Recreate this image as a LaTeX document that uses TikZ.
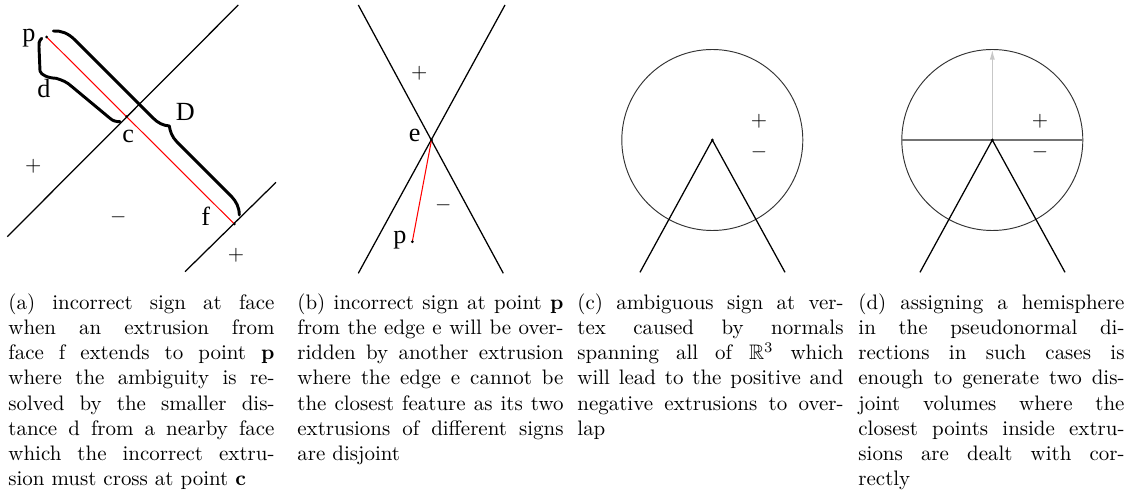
\documentclass[tikz,border=0pt]{standalone}
\usepackage{amssymb}
\usepackage{fontspec}
\newfontfamily\lblfont{Liberation Serif}
\usetikzlibrary{arrows.meta}
\tikzset{
  ln/.style={line width=0.6pt, black},
  redln/.style={line width=0.5pt, red},
  circln/.style={line width=0.45pt, black!80},
  brc/.style={line width=1.4pt, line cap=round, line join=round},
  lbl/.style={font=\lblfont\fontsize{12.5}{14}\selectfont, inner sep=0pt, anchor=base},
  sgn/.style={inner sep=0pt, font=\fontsize{10}{12}\selectfont},
  captxt/.style={anchor=north west, inner sep=0pt, text width=127pt, align=justify,
    font=\fontsize{10}{12}\selectfont,
    execute at begin node={\tolerance=10000\relax\hbadness=10000\relax}},
  hemi/.style={line width=0.9pt, black!55},
  nrm/.style={line width=0.6pt, black!22, -{Latex[length=4.8pt,width=2.4pt]}}
}
\begin{document}
\begin{tikzpicture}[x=0.4773pt,y=-0.4773pt]
\useasboundingbox[fill=white] (0,0) rectangle (1127,492);
% ---------- panel (a)
\coordinate (a1s) at (7.3,236.7);
\coordinate (a1e) at (238.3,5);
\coordinate (a2s) at (185,271.7);
\coordinate (a2e) at (276,182.3);
\coordinate (pa) at (46.7,37);
\coordinate (ca) at (126.7,116.7);
\coordinate (fa) at (234.3,224);
\draw[ln] (a1s) -- (a1e);
\draw[ln] (a2s) -- (a2e);
\draw[redln] (pa) -- (fa);
\fill (pa) circle[radius=1.5];
\fill (ca) circle[radius=1.5];
\fill (fa) circle[radius=1.5];
% brace D
\draw[brc] (53.3,31) .. controls (61,30.5) and (68,33) .. (75,40) -- (153,118)
  .. controls (158,123) and (163,125.5) .. (169.3,126)
  .. controls (170,131) and (172,137) .. (177,142) -- (231.7,196.7)
  .. controls (236,201.4) and (239.3,207) .. (239.3,215);
% brace d
\draw[brc] (41.7,38.3) .. controls (39,41) and (38.5,44) .. (39,47) -- (40,71)
  .. controls (41,75) and (48,78) .. (56,78.3)
  .. controls (62,80) and (67,82) .. (72,86.7) -- (110,118.3)
  .. controls (113,121) and (116,121.7) .. (120,121.7);
\node[lbl] (lpa) at (29,41.5) {p};
\node[lbl] (lda) at (44,97.7) {d};
\node[lbl] (lca) at (128.3,142.7) {c};
\node[lbl] (lDa) at (185.3,120.7) {D};
\node[lbl] (lfa) at (205.8,225) {f};
\node[sgn] (spa1) at (33.3,166.7) {$+$};
\node[sgn] (sma) at (118.3,217.3) {$-$};
\node[sgn] (spa2) at (236,255) {$+$};
% ---------- panel (b)
\coordinate (b1s) at (358.3,5);
\coordinate (b1e) at (503.3,273.3);
\coordinate (b2s) at (505,5);
\coordinate (b2e) at (358.3,273.3);
\coordinate (eb) at (431.5,140);
\coordinate (pb) at (412.3,241.7);
\draw[ln] (b1s) -- (b1e);
\draw[ln] (b2s) -- (b2e);
\draw[redln] (eb) -- (pb);
\fill (eb) circle[radius=1.5];
\fill (pb) circle[radius=1.5];
\node[lbl] (leb) at (414.7,141.7) {e};
\node[lbl] (lpb) at (400,243) {p};
\node[sgn] (spb) at (419.3,73.3) {$+$};
\node[sgn] (smb) at (443.3,205.7) {$-$};
% ---------- panel (c)
\coordinate (vc) at (712.3,140);
\coordinate (cl) at (640,272.3);
\coordinate (cr) at (785,272.3);
\draw[circln] (vc) circle[radius=90.5];
\draw[ln] (cl) -- (vc) -- (cr);
\fill (vc) circle[radius=1.5];
\node[sgn] (spc) at (759,121.7) {$+$};
\node[sgn] (smc) at (759,152.7) {$-$};
% ---------- panel (d)
\coordinate (vd) at (992.3,140);
\coordinate (dl) at (920,272.3);
\coordinate (dr) at (1065,272.3);
\coordinate (dW) at (901.8,140);
\coordinate (dE) at (1082.8,140);
\coordinate (dN) at (992.3,49.5);
\draw[nrm] (vd) -- (dN);
\draw[circln] (vd) circle[radius=90.5];
\draw[hemi] (dW) -- (dE);
\draw[ln] (dl) -- (vd) -- (dr);
\fill (vd) circle[radius=1.5];
\node[sgn] (spd) at (1040,121.7) {$+$};
\node[sgn] (smd) at (1040,152.7) {$-$};
% ---------- captions
\node[captxt] (capa) at (8,293.4) {(a) incorrect sign at face\linebreak
when an extrusion from\linebreak
face f extends to point \textbf{p}\linebreak
where the ambiguity is re-\linebreak
solved by the smaller dis-\linebreak
tance d from a nearby face\linebreak
which the incorrect extru-\linebreak
sion must cross at point \textbf{c}};
\node[captxt] (capb) at (297,293.4) {(b) incorrect sign at point \textbf{p}\linebreak
from the edge e will be over-\linebreak
ridden by another extrusion\linebreak
where the edge e cannot be\linebreak
the closest feature as its two\linebreak
extrusions of different signs\linebreak
are disjoint};
\node[captxt] (capc) at (577,293.4) {(c) ambiguous sign at ver-\linebreak
tex caused by normals\linebreak
spanning all of $\mathbb{R}^3$ which\linebreak
will lead to the positive and\linebreak
negative extrusions to over-\linebreak
lap};
\node[captxt] (capd) at (858,293.4) {(d) assigning a hemisphere\linebreak
in the pseudonormal di-\linebreak
rections in such cases is\linebreak
enough to generate two dis-\linebreak
joint volumes where the\linebreak
closest points inside extru-\linebreak
sions are dealt with cor-\linebreak
rectly};
\end{tikzpicture}
\end{document}
